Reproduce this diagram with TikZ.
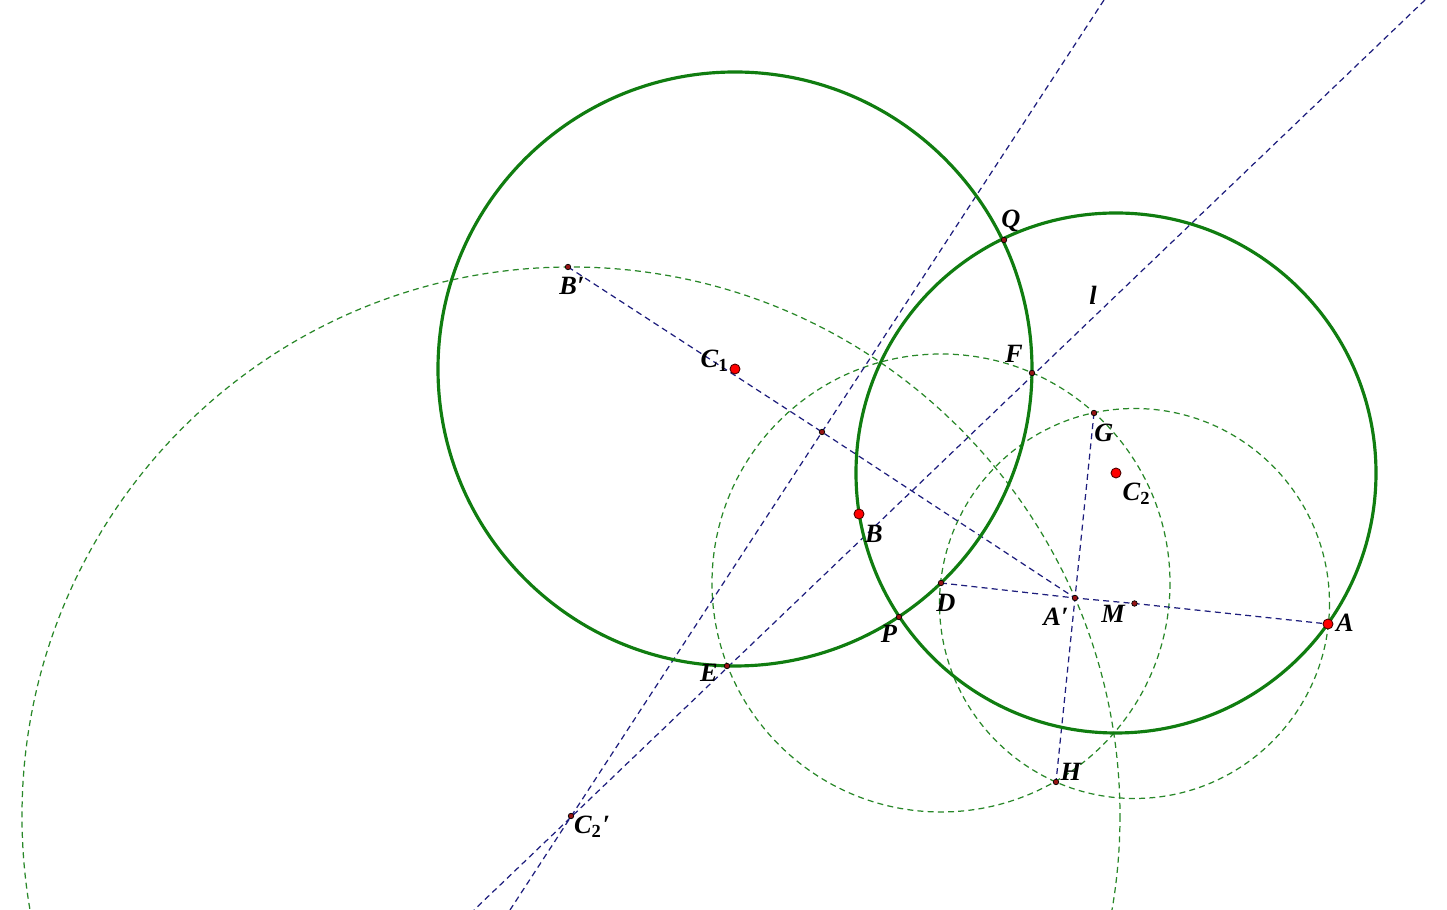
\documentclass[tikz,border=0pt]{standalone}
\usepackage{fontspec}
\setmainfont{Liberation Serif}
\begin{document}
\begin{tikzpicture}[x=0.01cm,y=-0.01cm,
  thickcirc/.style={draw=gThick,line width=0.9pt},
  dgreen/.style={draw=gDash,line width=0.35pt,dash pattern=on 1.7pt off 1.2pt},
  dblue/.style={draw=bDash,line width=0.35pt,dash pattern=on 1.7pt off 1.2pt},
  bigpt/.style={circle,fill=red,draw=black!70!red,line width=0.25pt,inner sep=0pt,minimum size=0.1cm},
  smallpt/.style={circle,fill=ptRed,draw=black,line width=0.2pt,inner sep=0pt,minimum size=0.055cm},
  lab/.style={font=\fontsize{7.5}{8}\selectfont\bfseries\itshape,inner sep=0pt}]
\definecolor{gThick}{RGB}{16,125,16}
\definecolor{gDash}{RGB}{40,135,40}
\definecolor{bDash}{RGB}{30,30,125}
\definecolor{ptRed}{RGB}{150,20,20}
\useasboundingbox (0,0) rectangle (1447,910);
\clip (0,0) rectangle (1447,910);
% key points
\coordinate (C1) at (735,369);
\coordinate (C2) at (1116,473);
\coordinate (Bp) at (568,267);
\coordinate (Mid) at (822,432);
\coordinate (F) at (1032,373);
\coordinate (G) at (1094,413);
\coordinate (D) at (941,583);
\coordinate (Ap) at (1075,598);
\coordinate (M) at (1134.5,603.5);
\coordinate (A) at (1328,624);
\coordinate (B) at (859,514);
\coordinate (P) at (899,617);
\coordinate (E) at (727,666);
\coordinate (H) at (1056,782);
\coordinate (C2p) at (571,816);
\coordinate (Q) at (1004,240);
\coordinate (L1a) at (1104,0);
\coordinate (L1b) at (510,910);
\coordinate (L2a) at (1425,0);
\coordinate (L2b) at (474,910);
% dashed green circles
\draw[dgreen] (C2p) circle[radius=549];
\draw[dgreen] (D) circle[radius=229];
\draw[dgreen] (M) circle[radius=195];
% dashed blue lines
\draw[dblue] (L1a) -- (L1b);
\draw[dblue] (L2a) -- (L2b);
\draw[dblue] (Bp) -- (Mid) -- (Ap);
\draw[dblue] (D) -- (Ap) -- (M) -- (A);
\draw[dblue] (G) -- (Ap) -- (H);
% thick circles
\draw[thickcirc] (C1) circle[radius=297];
\draw[thickcirc] (C2) circle[radius=260];
% points
\foreach \p in {Bp,Mid,F,G,D,Ap,M,P,E,H,C2p,Q} \node[smallpt] at (\p) {};
\foreach \p in {C1,C2,B,A} \node[bigpt] at (\p) {};
% labels
\node[lab] (lQ) at (1011,221) {Q};
\node[lab] (ll) at (1093,295) {l};
\node[lab] (lF) at (1014,354) {F};
\node[lab] (lG) at (1104,433) {G};
\node[lab] (lC2) at (1137,494) {C\textsubscript{\upshape 2}};
\node[lab] (lC1) at (715,361) {C\textsubscript{\upshape 1}};
\node[lab] (lBp) at (572,286) {B′};
\node[lab] (lB) at (874,534) {B};
\node[lab] (lD) at (946,603) {D};
\node[lab] (lAp) at (1056,617) {A′};
\node[lab] (lM) at (1113,614) {M};
\node[lab] (lA) at (1345,623) {A};
\node[lab] (lP) at (889,634) {P};
\node[lab] (lE) at (709,673) {E};
\node[lab] (lH) at (1071,772) {H};
\node[lab] (lC2p) at (592,827) {C\textsubscript{\upshape 2}′};
\end{tikzpicture}
\end{document}
